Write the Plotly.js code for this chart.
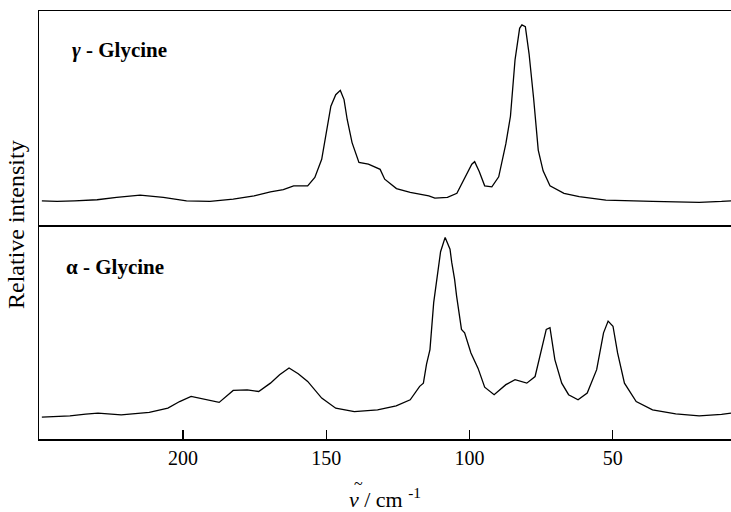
<!DOCTYPE html>
<html>
<head>
<meta charset="utf-8">
<script src="https://cdn.plot.ly/plotly-3.0.1.min.js"></script>
<style>html,body{margin:0;padding:0;background:#fff;}#chart{width:731px;height:512px;}</style>
</head>
<body>
<div id="chart"></div>
<script>
// wavenumber (cm-1) and relative intensity
var gammaWavenumber = [249.3,244,237.9,230,223.2,215,206.9,198.8,190.6,182.5,175.2,169.5,165,161.4,156.5,154,151.6,150,148.4,146.7,145.1,143.8,142.7,141,138.6,135.3,132.1,131.2,129.6,128.9,125.5,120.7,114.2,112.1,107.7,104.4,101.2,99.2,98.2,96.6,94.7,92.2,89.8,87.3,85.7,84.1,82.5,81.7,80.5,79.2,77.6,76,74.3,71.9,67,61.7,52.4,44,36.1,28,19.8,12,8.7];
var gammaIntensity  = [11.3,11.0,11.3,11.8,12.9,14.0,12.9,11.3,11.0,12.1,13.6,15.5,16.5,18.3,18.3,22.2,30.7,43.2,55.5,60.9,62.9,58.6,49.3,38.5,29.2,28.4,26.8,26.0,21.4,20.6,17.0,15.2,13.6,12.6,12.9,14.8,22.9,28.4,29.6,25.0,18.3,17.8,22.5,38.0,50.8,77.2,91.9,93.5,92.7,80.0,59.0,35.0,25.3,18.3,14.8,13.3,11.6,11.2,11.0,10.8,10.6,11.0,11.3];

var alphaWavenumber = [249.3,244,239.5,234,229.7,221.6,216,211.8,205.3,201.2,197.2,192.3,187.4,182.5,177.6,173.6,169.5,166.3,163,159.8,156.5,151.6,146.7,140.2,132.1,125.6,120.7,117.4,116.1,115,113.8,112.5,110.1,108.5,106.8,106.2,105.2,104.5,102.8,101.7,99.5,97,94.7,91.4,87.3,84.1,80,77.1,75.1,73.2,71.9,70.2,67.8,65.4,62.1,58.9,55.6,53.2,51.6,49.9,48.3,45.9,41.8,36.1,28,19.8,12,8.7];
var alphaIntensity  = [10.2,10.6,10.8,11.6,12.1,11.3,12.0,12.4,14.4,17.5,19.9,18.6,17.1,22.7,23.0,22.2,26.1,30.0,33.2,30.5,26.9,19.1,14.4,12.8,13.6,15.5,18.3,24.6,26.1,35.0,41.8,63.7,87.5,94.2,88.7,82.5,74.6,66.8,51.2,49.6,40.2,33.0,24.2,20.7,25.4,27.7,26.1,29.2,40.2,51.2,52.0,37.1,26.1,20.7,18.3,21.5,32.4,49.6,55.1,52.7,40.2,26.1,17.5,13.6,11.7,10.8,11.5,12.1];

var tickValues = [200,150,100,50];
var tickLabels = ['200','150','100','50'];

var serif = 'Liberation Serif';
var lineStyle = {color:'#000', width:1.3};

var traces = [
  {x: alphaWavenumber, y: alphaIntensity, xaxis:'x', yaxis:'y', mode:'lines', line: lineStyle, name:'α - Glycine', hoverinfo:'x+y'},
  {x: gammaWavenumber, y: gammaIntensity, xaxis:'x2', yaxis:'y2', mode:'lines', line: lineStyle, name:'γ - Glycine', hoverinfo:'x+y'}
];

var xRange = [250.3, 8.7];
var layout = {
  width:731, height:512,
  margin:{l:39, r:0, t:11, b:73},
  paper_bgcolor:'#fff', plot_bgcolor:'#fff',
  showlegend:false,
  font:{family:serif, size:20, color:'#000'},
  xaxis:{
    range:xRange, domain:[0,1], anchor:'y',
    showline:true, linecolor:'#000', linewidth:1.5, mirror:false,
    ticks:'inside', ticklen:9, tickwidth:1.5, tickcolor:'#000',
    tickvals:tickValues, ticktext:tickLabels,
    tickfont:{family:serif, size:20, color:'#000'},
    showgrid:false, zeroline:false,
    title:{text:'<i>ν</i> / cm <sup>-1</sup>', font:{family:serif, size:22, color:'#000'}}
  },
  yaxis:{
    domain:[0,0.5], range:[0,100], anchor:'x',
    showline:true, linecolor:'#000', linewidth:1.5,
    showticklabels:false, ticks:'', showgrid:false, zeroline:false
  },
  xaxis2:{
    range:xRange, domain:[0,1], anchor:'y2',
    showline:true, linecolor:'#000', linewidth:1.5, mirror:true,
    ticks:'', showticklabels:false, showgrid:false, zeroline:false
  },
  yaxis2:{
    domain:[0.5,1], range:[0,100], anchor:'x2',
    showline:true, linecolor:'#000', linewidth:1.5,
    showticklabels:false, ticks:'', showgrid:false, zeroline:false
  },
  annotations:[
    {xref:'paper', yref:'paper', x:0.045, y:0.909, xanchor:'left', yanchor:'middle', showarrow:false,
     text:'<b><i>γ</i> - Glycine</b>', font:{family:serif, size:21, color:'#000'}},
    {xref:'paper', yref:'paper', x:0.036, y:0.402, xanchor:'left', yanchor:'middle', showarrow:false,
     text:'<b>α - Glycine</b>', font:{family:serif, size:21, color:'#000'}},
    {xref:'paper', yref:'paper', x:0, y:0.5, xshift:-23, xanchor:'center', yanchor:'middle', showarrow:false,
     textangle:-90, text:'Relative intensity', font:{family:serif, size:24, color:'#000'}},
    {xref:'paper', yref:'paper', x:0, y:0, xshift:319, yshift:-44, xanchor:'center', yanchor:'middle', showarrow:false,
     text:'~', font:{family:serif, size:16, color:'#000'}}
  ]
};

Plotly.newPlot('chart', traces, layout, {staticPlot:true, displayModeBar:false});
</script>
</body>
</html>
